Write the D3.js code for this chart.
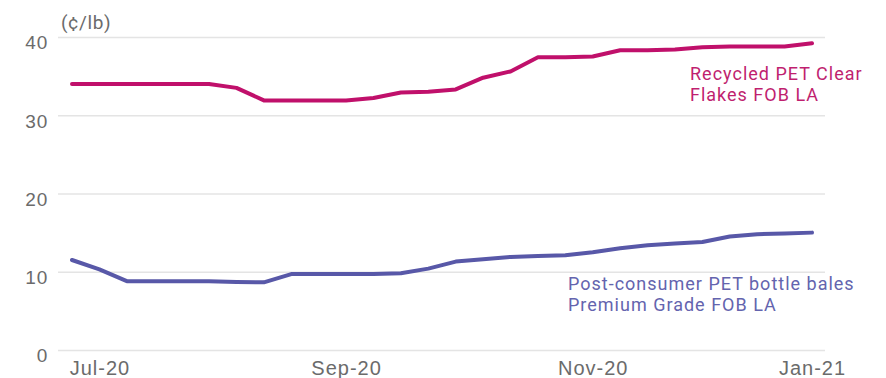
<!DOCTYPE html>
<html><head><meta charset="utf-8">
<script src="https://cdn.jsdelivr.net/npm/d3@7"></script>
<style>
html,body{margin:0;padding:0;background:#fff;}
svg{display:block;font-family:Roboto, "Noto Sans", sans-serif;}
</style></head>
<body>
<svg id="chart" width="886" height="378"></svg>
<script>
// Weekly assessment dates (first week of each odd month is labelled)
const weeks = ["2020-06-26","2020-07-03","2020-07-10","2020-07-17","2020-07-24","2020-07-31",
  "2020-08-07","2020-08-14","2020-08-21","2020-08-28","2020-09-04","2020-09-11","2020-09-18",
  "2020-09-25","2020-10-02","2020-10-09","2020-10-16","2020-10-23","2020-10-30","2020-11-06",
  "2020-11-13","2020-11-20","2020-11-27","2020-12-04","2020-12-11","2020-12-18","2020-12-25","2021-01-01"];
const flakes = [34.0,34.0,34.0,34.0,34.0,34.0,33.5,31.9,31.9,31.9,31.9,32.2,32.9,33.0,33.3,34.8,
  35.6,37.4,37.4,37.5,38.3,38.3,38.4,38.7,38.8,38.8,38.8,39.2];
const bales = [11.5,10.3,8.8,8.8,8.8,8.8,8.7,8.65,9.7,9.7,9.7,9.7,9.8,10.4,11.3,11.6,11.9,12.0,
  12.1,12.5,13.0,13.4,13.6,13.8,14.5,14.8,14.9,15.0];
const xTickWeeks = ["2020-07-03","2020-09-04","2020-11-06","2021-01-01"];
const xTickLabels = ["Jul-20","Sep-20","Nov-20","Jan-21"];
const yTicks = [0,10,20,30,40];
const unitLabel = "(¢/lb)";
const seriesNames = [["Recycled PET Clear","Flakes FOB LA"],["Post-consumer PET bottle bales","Premium Grade FOB LA"]];

const svg = d3.select("#chart");
const x = d3.scalePoint().domain(weeks).range([72, 812]);
const y = d3.scaleLinear().domain([0, 40]).range([350, 37]);

// gridlines + y labels
const yAxis = d3.axisLeft(y).tickValues(yTicks).tickSize(-767).tickPadding(10).tickFormat(d3.format("d"));
const gy = svg.append("g").attr("transform","translate(58,0)").call(yAxis);
gy.select(".domain").remove();
gy.selectAll(".tick line").attr("stroke","#e4e4e4").attr("stroke-width",1.5);
gy.selectAll(".tick text").attr("fill","#6b6b6b").attr("font-size",19).attr("dy","0.62em")
  .attr("x",-10).style("letter-spacing","0.8px");

// x labels
const labelMap = new Map(xTickWeeks.map((d,i)=>[d,xTickLabels[i]]));
const xAxis = d3.axisBottom(x).tickValues(xTickWeeks).tickSize(0).tickPadding(0).tickFormat(d=>labelMap.get(d));
const gx = svg.append("g").attr("transform","translate(0,360)").call(xAxis);
gx.select(".domain").remove();
gx.selectAll(".tick text").attr("fill","#6b6b6b").attr("font-size",20).attr("dy","0.76em")
  .style("letter-spacing","1px");

// unit label
svg.append("text").attr("x",61).attr("y",29).attr("fill","#6b6b6b").attr("font-size",19)
  .style("letter-spacing","0.6px").text(unitLabel);

const line = d3.line().x((d,i)=>x(weeks[i])).y(d=>y(d)).curve(d3.curveLinear);
svg.append("path").datum(bales).attr("d",line).attr("fill","none")
  .attr("stroke","#5858a8").attr("stroke-width",4).attr("stroke-linejoin","round").attr("stroke-linecap","round");
svg.append("path").datum(flakes).attr("d",line).attr("fill","none")
  .attr("stroke","#c0106b").attr("stroke-width",4).attr("stroke-linejoin","round").attr("stroke-linecap","round");

// series labels (one text per line)
function lab(lines, x0, y0, color){
  lines.forEach((s,i)=>svg.append("text").attr("x",x0).attr("y",y0+i*21).attr("fill",color)
    .attr("font-size",18).style("letter-spacing","1px").text(s));
}
lab(seriesNames[0], 690, 80, "#c01f6f");
lab(seriesNames[1], 568, 290, "#6464ae");
</script>
</body></html>
